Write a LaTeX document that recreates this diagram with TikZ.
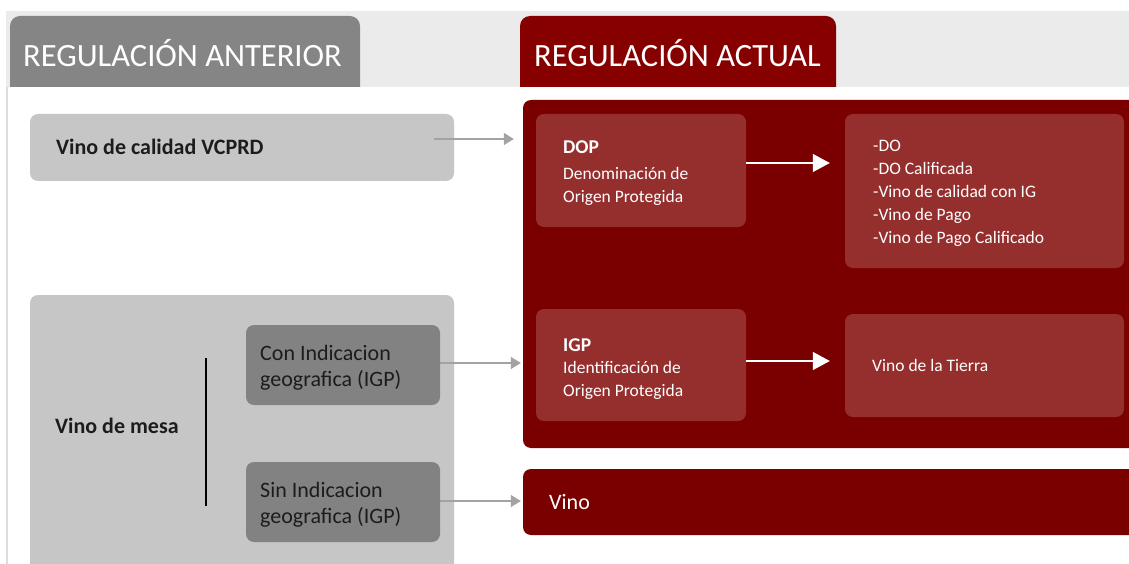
\documentclass[tikz,border=0pt]{standalone}
\usepackage{fontspec}
\setmainfont{Carlito}
\usetikzlibrary{arrows.meta,calc}
\definecolor{bandgray}{HTML}{EBEBEB}
\definecolor{tabgray}{HTML}{858585}
\definecolor{tabred}{HTML}{870000}
\definecolor{darkred}{HTML}{7A0000}
\definecolor{midred}{HTML}{952F2E}
\definecolor{lightbox}{HTML}{C5C6C5}
\definecolor{darkbox}{HTML}{828282}
\definecolor{arrowgray}{HTML}{A3A3A3}
\definecolor{edgegray}{HTML}{DDDDDD}
\definecolor{txtdark}{HTML}{1C1C1C}
\begin{document}
\begin{tikzpicture}[x=1pt,y=-1pt,
  box/.style={rounded corners=8pt, inner sep=0pt, draw=none},
  lbox/.style={box, fill=lightbox},
  gbox/.style={box, fill=darkbox},
  rbox/.style={box, fill=midred},
  cbox/.style={box, fill=darkred},
  hdr/.style={font=\fontsize{32.5}{38}\selectfont, text=white, anchor=base west, inner sep=0pt},
  boldlbl/.style={font=\fontsize{22}{26}\bfseries, text=txtdark, anchor=base west, inner sep=0pt},
  graylbl/.style={font=\fontsize{22}{26}\selectfont, text=txtdark, anchor=base west, inner sep=0pt},
  redtitle/.style={font=\fontsize{19.5}{23}\bfseries, text=white, anchor=base west, inner sep=0pt},
  redlbl/.style={font=\fontsize{17.5}{21}\selectfont, text=white, anchor=base west, inner sep=0pt},
  vinolbl/.style={font=\fontsize{22}{26}\selectfont, text=white, anchor=base west, inner sep=0pt},
  garrow/.style={draw=arrowgray, line width=1.4pt, -{Triangle[length=10pt,width=12pt]}},
  warrow/.style={draw=white, line width=1.4pt, -{Triangle[length=17pt,width=18pt]}},
]
\useasboundingbox (0,0) rectangle (1129,564);
\clip (0,0) rectangle (1129,564);
\fill[white] (0,0) rectangle (1129,564);
% header band and left edge
\fill[bandgray] (6,11) rectangle (1129,87);
\draw[edgegray, line width=1.5pt] (6.75,87) -- (6.75,564);
% header tabs
\begin{scope}
  \clip (0,0) rectangle (1129,87);
  \fill[tabgray, rounded corners=10pt] (10,16) rectangle (360,120);
  \fill[tabred, rounded corners=10pt] (520,16) rectangle (836,120);
\end{scope}
\node[hdr] (hA) at (23,66.5) {REGULACIÓN ANTERIOR};
\node[hdr] (hB) at (534,66.5) {REGULACIÓN ACTUAL};

% left side
\node[lbox, minimum width=424pt, minimum height=67pt] (vcprd) at (242,147.5) {};
\node[boldlbl] (vcprdT) at (56,155) {Vino de calidad VCPRD};
\node[lbox, minimum width=424pt, minimum height=295pt] (mesa) at (242,442.5) {};
\node[boldlbl] (mesaT) at (55,433.5) {Vino de mesa};
\draw[black, line width=1.3pt] (206,358) -- (206,506);
\node[gbox, minimum width=194pt, minimum height=80pt] (con) at (343,365) {};
\node[graylbl] (conT1) at (260,360) {Con Indicacion};
\node[graylbl] (conT2) at (260,386.5) {geografica (IGP)};
\node[gbox, minimum width=194pt, minimum height=80pt] (sin) at (343,502) {};
\node[graylbl] (sinT1) at (260,497) {Sin Indicacion};
\node[graylbl] (sinT2) at (260,523.5) {geografica (IGP)};

% right side
\node[cbox, minimum width=617pt, minimum height=348pt] (cont) at (831.5,274) {};
\node[cbox, minimum width=617pt, minimum height=66pt] (vino) at (831.5,502) {};
\node[vinolbl] (vinoT) at (549,509) {Vino};

\node[rbox, minimum width=210pt, minimum height=113pt] (dop) at (641,170.5) {};
\node[redtitle] (dopT) at (563,154) {DOP};
\node[redlbl] (dopT1) at (563,180) {Denominación de};
\node[redlbl] (dopT2) at (563,202.5) {Origen Protegida};

\node[rbox, minimum width=279pt, minimum height=154pt] (list) at (984.5,191) {};
\node[redlbl] (l1) at (873,152) {-DO};
\node[redlbl] (l2) at (873,175) {-DO Calificada};
\node[redlbl] (l3) at (873,197.5) {-Vino de calidad con IG};
\node[redlbl] (l4) at (873,220.5) {-Vino de Pago};
\node[redlbl] (l5) at (873,243) {-Vino de Pago Calificado};

\node[rbox, minimum width=210pt, minimum height=112pt] (igp) at (641,365) {};
\node[redtitle] (igpT) at (563,351) {IGP};
\node[redlbl] (igpT1) at (563,373.5) {Identificación de};
\node[redlbl] (igpT2) at (563,396) {Origen Protegida};

\node[rbox, minimum width=279pt, minimum height=103pt] (tierra) at (984.5,365.5) {};
\node[redlbl] (tierraT) at (872,371.5) {Vino de la Tierra};

% connectors
\draw[garrow] ($(vcprd.east)+(-20,-8.5)$) -- ($(vcprd.east -| cont.west)+(-9,-8.5)$);
\draw[garrow] ($(con.east)+(0,-2)$) -- ($(con.east -| cont.west)+(-2,-2)$);
\draw[garrow] ($(sin.east)+(0,-1)$) -- ($(sin.east -| vino.west)+(-2,-1)$);
\draw[warrow] ($(dop.east)+(0,-7.5)$) -- ($(dop.east -| list.west)+(-15,-7.5)$);
\draw[warrow] ($(igp.east)+(0,-4)$) -- ($(igp.east -| tierra.west)+(-15,-4)$);
\end{tikzpicture}
\end{document}
